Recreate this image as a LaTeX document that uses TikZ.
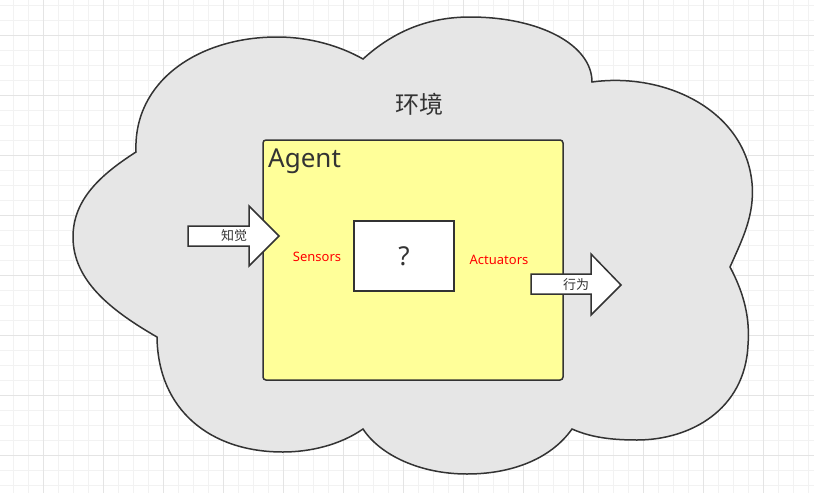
\documentclass[tikz,border=0pt]{standalone}
\usepackage{fontspec}
\setmainfont{Noto Sans}
\newfontfamily\cjk{Noto Sans CJK SC}
\definecolor{gridminor}{HTML}{F2F2F2}
\definecolor{gridmajor}{HTML}{E4E4E4}
\definecolor{cloudfill}{HTML}{E6E6E6}
\definecolor{agentfill}{HTML}{FFFF99}
\definecolor{ink}{HTML}{333333}
\tikzset{
  outline/.style={draw=ink, line width=1.5pt, line join=miter},
  txt/.style={text=ink, inner sep=0pt},
  redtxt/.style={text=red, inner sep=0pt, font=\fontsize{13}{15}\selectfont},
  cjktxt/.style={text=ink, inner sep=0pt, font=\cjk\fontsize{13}{15}\selectfont},
}
\begin{document}
\begin{tikzpicture}[x=1pt,y=-1pt]
\useasboundingbox (0,0) rectangle (814,493);
\fill[white] (0,0) rectangle (814,493);
% grid
\begin{scope}
\clip (0,0) rectangle (814,493);
\foreach \k in {-1,...,54} {\draw[gridminor, line width=1pt] ({13.33+15*\k},0) -- ({13.33+15*\k},493);}
\foreach \k in {0,...,32} {\draw[gridminor, line width=1pt] (0,{5+15*\k}) -- (814,{5+15*\k});}
\foreach \k in {-1,...,13} {\draw[gridmajor, line width=1pt] ({43.33+60*\k},0) -- ({43.33+60*\k},493);}
\foreach \k in {0,...,8} {\draw[gridmajor, line width=1pt] (0,{35+60*\k}) -- (814,{35+60*\k});}
\end{scope}
% cloud
\draw[outline, fill=cloudfill]
  (136,152) .. controls (133,80) and (200,37) .. (277,37)
  .. controls (310,37) and (340,46) .. (363,59)
  .. controls (395,30) and (430,17) .. (470,17)
  .. controls (540,17) and (592,45) .. (592,82)
  .. controls (665,72) and (745,110) .. (752,183)
  .. controls (755,215) and (742,240) .. (730,267)
  .. controls (745,295) and (750,320) .. (748,345)
  .. controls (745,410) and (690,440) .. (637,440)
  .. controls (610,440) and (590,437) .. (572,429)
  .. controls (550,460) and (510,474) .. (467,474)
  .. controls (420,474) and (380,455) .. (363,429)
  .. controls (340,445) and (310,452) .. (283,452)
  .. controls (210,452) and (158,410) .. (157,337)
  .. controls (110,310) and (73,280) .. (73,237)
  .. controls (73,200) and (100,175) .. (136,152) -- cycle;
\node[txt, font=\cjk\fontsize{24}{28}\selectfont] (env) at (419,104) {环境};
% agent box
\draw[outline, fill=agentfill, rounded corners=3pt] (263,140) rectangle (563,380);
\node[txt, anchor=base west, font=\fontsize{26}{30}\selectfont] (agent) at (268,167) {Agent};
% unknown box
\node[outline, fill=white, minimum width=100pt, minimum height=70pt, inner sep=0pt,
      text=ink, font=\fontsize{26}{30}\selectfont] (q) at (404,256) {?};
\node[redtxt] (sensors) at (317,257) {Sensors};
\node[redtxt] (actuators) at (499,260) {Actuators};
% percept arrow
\draw[outline, fill=white] (188,226) -- (249,226) -- (249,206) -- (279,236) -- (249,266) -- (249,246) -- (188,246) -- cycle;
\node[cjktxt] (percept) at (234,236) {知觉};
% action arrow
\draw[outline, fill=white] (531,274) -- (591,274) -- (591,254) -- (621,285) -- (591,315) -- (591,294) -- (531,294) -- cycle;
\node[cjktxt] (action) at (576,285) {行为};
\end{tikzpicture}
\end{document}
